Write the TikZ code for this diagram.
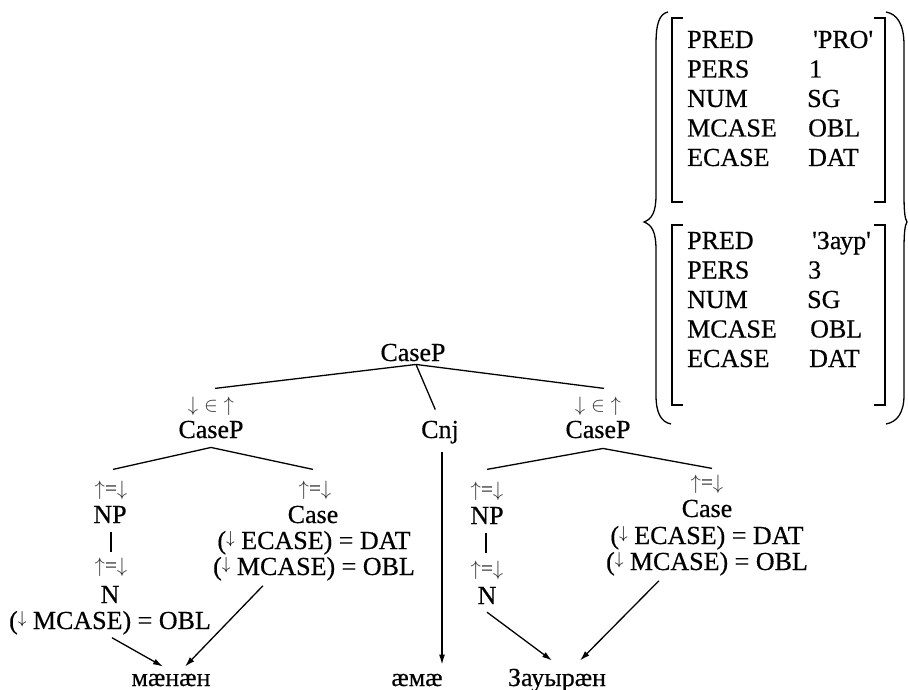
\documentclass[tikz,border=0pt]{standalone}
\usepackage{fontspec}
\setmainfont{Liberation Serif}[Ligatures=TeXOff,FakeBold=0.5]
\usetikzlibrary{arrows.meta,calc}
% slim arrow inside equations such as (↓ ECASE) = DAT
\newcommand{\eqdn}{\raisebox{5.5pt}{\fontsize{19}{20}\selectfont$\downarrow$}}
\begin{document}
\begin{tikzpicture}[x=1pt,y=-1pt,
  cat/.style={font=\fontsize{26}{30}\selectfont,anchor=base,inner sep=0pt},
  ann/.style={font=\fontsize{21}{24}\selectfont,anchor=base,inner sep=0pt,text=black!80},
  setann/.style={font=\fontsize{22}{24}\selectfont,anchor=base,inner sep=0pt,text=black!80},
  feat/.style={font=\fontsize{26}{30}\selectfont,anchor=base west,inner sep=0pt},
  branch/.style={line width=1.3pt},
  dep/.style={line width=1.3pt,-{Latex[length=10pt,width=6pt]}},
  delim/.style={line width=1.3pt}]
\useasboundingbox (0,0) rectangle (908,690);

% ---- c-structure ----
\node[cat] (root) at (413,361) {CaseP};
\node[setann] (lann) at (211,411) {$\downarrow\;\in\;\uparrow$};
\node[cat] (lcp)  at (211,438) {CaseP};
\node[cat] (cnj)  at (440,438) {Cnj};
\node[setann] (rann) at (598,411) {$\downarrow\;\in\;\uparrow$};
\node[cat] (rcp)  at (598,438) {CaseP};

% first conjunct
\node[ann] (lnpann) at (111,495) {$\uparrow$=$\downarrow$};
\node[cat] (lnp)    at (110,523) {NP};
\node[ann] (lnann)  at (111,572) {$\uparrow$=$\downarrow$};
\node[cat] (ln)     at (110,603) {N};
\node[cat] (lnm)    at (110,629) {(\eqdn\ MCASE) = OBL};
\node[ann] (lcann)  at (315,495) {$\uparrow$=$\downarrow$};
\node[cat] (lcase)  at (313,523) {Case};
\node[cat] (lce)    at (314,549) {(\eqdn\ ECASE) = DAT};
\node[cat] (lcm)    at (314,575) {(\eqdn\ MCASE) = OBL};

% second conjunct
\node[ann] (rnpann) at (487,496) {$\uparrow$=$\downarrow$};
\node[cat] (rnp)    at (487,524) {NP};
\node[ann] (rnann)  at (487,575) {$\uparrow$=$\downarrow$};
\node[cat] (rn)     at (487,604) {N};
\node[ann] (rcann)  at (707,489) {$\uparrow$=$\downarrow$};
\node[cat] (rcase)  at (707,517) {Case};
\node[cat] (rce)    at (707,544) {(\eqdn\ ECASE) = DAT};
\node[cat] (rcm)    at (707,570) {(\eqdn\ MCASE) = OBL};

% words
\node[cat] (w1) at (171,686) {мæнæн};
\node[cat] (w2) at (417,686) {æмæ};
\node[cat] (w3) at (557,686) {Зауырæн};

% branches
\draw[branch] ($(root.south)+(3,3)$) -- ($(lann.north)+(4,-8)$);
\draw[branch] ($(root.south)+(3,3)$) -- ($(rann.north)+(6,-8)$);
\draw[branch,shorten >=12pt] ($(root.south)+(3,3)$) -- (cnj.north);

\draw[branch] ($(lcp.south)+(0,9)$) -- ($(lnpann.north)+(2,-11)$);
\draw[branch] ($(lcp.south)+(0,9)$) -- ($(lcann.north)+(-2,-11)$);
\draw[branch] ($(lnp.south)+(1,9)$) -- ($(lnann.north)+(0,-5)$);

\draw[branch] ($(rcp.south)+(5,10)$) -- ($(rnpann.north)+(0,-12)$);
\draw[branch] ($(rcp.south)+(5,10)$) -- ($(rcann.north)+(5,-6)$);
\draw[branch] ($(rnp.south)+(-1,9)$) -- ($(rnann.north)+(-1,-7)$);

% projections onto the words
\draw[dep] ($(lnm.south)+(2,3)$) -- ($(w1.north)+(-8,-7)$);
\draw[dep] ($(lcm.south west)+(50,5)$) -- ($(w1.north)+(14,-7)$);
\draw[dep] ($(cnj.south)+(2,8)$) -- ($(cnj.south |- w2.north)+(2,-9)$);
\draw[dep] ($(rn.south)+(0,8)$) -- ($(w3.north)+(-5,-8)$);
\draw[dep] ($(rcm.south west)+(53,5)$) -- ($(w3.north)+(23,-8)$);

% ---- f-structure set ----
\node[feat] (a1) at (687,48)    {PRED};
\node[feat] (a2) at (687,77.5)  {PERS};
\node[feat] (a3) at (687,107)   {NUM};
\node[feat] (a4) at (687,136.5) {MCASE};
\node[feat] (a5) at (687,166)   {ECASE};
\node[feat] (v1) at (813,48)    {'PRO'};
\node[feat] (v2) at (809,77.5)  {1};
\node[feat] (v3) at (807,107)   {SG};
\node[feat] (v4) at (808,136.5) {OBL};
\node[feat] (v5) at (808,166)   {DAT};

\node[feat] (b1) at (687,249)   {PRED};
\node[feat] (b2) at (687,278.5) {PERS};
\node[feat] (b3) at (687,308)   {NUM};
\node[feat] (b4) at (687,337.5) {MCASE};
\node[feat] (b5) at (687,367)   {ECASE};
\node[feat] (u1) at (812,249)   {'Заур'};
\node[feat] (u2) at (808,278.5) {3};
\node[feat] (u3) at (807,308)   {SG};
\node[feat] (u4) at (810,337.5) {OBL};
\node[feat] (u5) at (809,367)   {DAT};

% brackets
\draw[delim] (683,18) -- (672,18) -- (672,202) -- (683,202);
\draw[delim] (874,18) -- (885,18) -- (885,202) -- (874,202);
\draw[delim] (683,225) -- (672,225) -- (672,405) -- (683,405);
\draw[delim] (874,225) -- (885,225) -- (885,405) -- (874,405);

% set braces
\draw[delim] (668,12) .. controls (659,14) and (656,24) .. (656,45) -- (656,195)
  .. controls (656,212) and (652,219) .. (644,222)
  .. controls (652,225) and (656,232) .. (656,250) -- (656,395)
  .. controls (656,413) and (661,422) .. (671,424);
\draw[delim] (886,12) .. controls (897,14) and (904,24) .. (904,45) -- (904,195)
  .. controls (904,212) and (905,219) .. (907,222)
  .. controls (905,225) and (904,232) .. (904,250) -- (904,395)
  .. controls (904,413) and (897,422) .. (886,424);
\end{tikzpicture}
\end{document}
